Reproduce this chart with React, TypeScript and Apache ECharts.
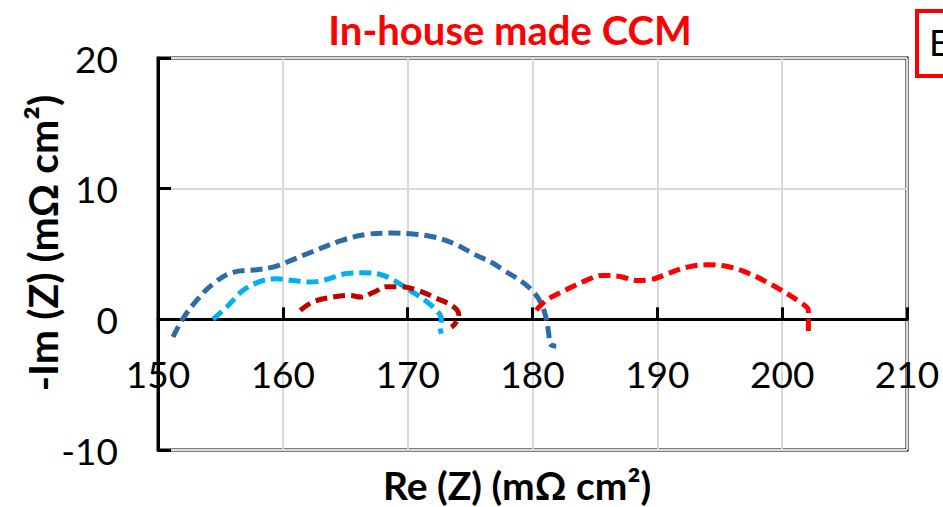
import React, { useEffect, useRef } from "react";
import * as echarts from "echarts";

const titleText = "In-house made CCM";
const xTitle = "Re (Z) (mΩ cm²)";
const yTitle = "-Im (Z) (mΩ cm²)";
const xTicks = { min: 150, max: 210, interval: 10 };
const yTicks = { min: -10, max: 20, interval: 10 };

const darkBlueX = [151.2, 152.0, 153.1, 154.4, 156.0, 157.9, 159.2, 160.3, 161.9, 164.6, 166.7, 168.6, 170.2, 172.1, 173.7, 175.3, 176.9, 177.7, 179.0, 180.1, 180.7, 181.1, 181.3, 181.4, 181.9];
const darkBlueY = [-1.35, 0.05, 1.45, 2.7, 3.6, 3.8, 4.0, 4.37, 5.0, 6.0, 6.5, 6.6, 6.55, 6.3, 5.8, 5.0, 4.25, 3.74, 2.98, 2.08, 1.2, 0.05, -1.1, -1.86, -2.06];

const lightBlueX = [154.4, 155.5, 156.8, 158.2, 159.5, 160.8, 162.2, 163.5, 165.1, 166.4, 167.8, 168.9, 170.2, 171.4, 172.3, 172.7, 172.6, 172.7];
const lightBlueY = [0.0, 0.94, 2.2, 2.9, 3.1, 2.98, 2.85, 3.05, 3.5, 3.56, 3.43, 2.98, 2.2, 1.45, 0.69, 0.05, -0.59, -1.1];

const darkRedX = [161.4, 162.4, 164.0, 165.4, 166.2, 167.3, 168.3, 169.4, 170.7, 172.1, 173.7, 174.1, 173.8, 173.5];
const darkRedY = [0.69, 1.32, 1.7, 1.83, 1.7, 2.08, 2.5, 2.5, 2.26, 1.7, 0.94, 0.3, -0.33, -0.59];

const redX = [180.3, 181.1, 182.7, 184.3, 185.6, 187.0, 188.3, 189.4, 190.8, 192.4, 194.0, 195.8, 197.4, 199.0, 200.4, 201.4, 202.1, 202.1, 202.1];
const redY = [0.69, 1.45, 2.26, 2.98, 3.36, 3.28, 2.98, 3.03, 3.49, 4.0, 4.17, 4.0, 3.49, 2.73, 1.96, 1.32, 0.69, -0.08, -0.97];

const pair = (xs: number[], ys: number[]) => xs.map((x, i) => [x, ys[i]]);

const FONT = "Lato, 'Open Sans', sans-serif";

const GRID_TOP = 58;
const GRID_BOTTOM = 57;
const H = 507;
const plotH = H - GRID_TOP - GRID_BOTTOM;
const zeroOffset = -plotH * ((0 - yTicks.min) / (yTicks.max - yTicks.min));

export default function App() {
  const ref = useRef<HTMLDivElement>(null);
  useEffect(() => {
    if (!ref.current) return;
    const chart = echarts.init(ref.current, undefined, { renderer: "svg" });
    const mkSeries = (name: string, xs: number[], ys: number[], color: string) => ({
      name,
      type: "line",
      data: pair(xs, ys),
      smooth: 0.4,
      showSymbol: false,
      symbol: "none",
      lineStyle: { color, width: 5, type: [12, 6] },
    });
    chart.setOption({
      animation: false,
      backgroundColor: "#ffffff",
      grid: {
        left: 158,
        top: GRID_TOP,
        right: 36,
        bottom: GRID_BOTTOM,
        show: true,
        borderColor: "#000",
        borderWidth: 3,
        backgroundColor: "transparent",
        containLabel: false,
        outerBoundsMode: "none",
      },
      xAxis: {
        type: "value",
        min: xTicks.min,
        max: xTicks.max,
        interval: xTicks.interval,
        position: "bottom",
        offset: zeroOffset,
        axisLine: { show: true, onZero: false, lineStyle: { color: "#000", width: 3 } },
        axisTick: { show: true, inside: true, length: 12, lineStyle: { color: "#000", width: 3 } },
        axisLabel: { color: "#000", fontFamily: FONT, fontSize: 37, margin: 36, hideOverlap: false },
        splitLine: { show: true, lineStyle: { color: "#D9D9D9", width: 2 } },
      },
      yAxis: {
        type: "value",
        min: yTicks.min,
        max: yTicks.max,
        interval: yTicks.interval,
        axisLine: { show: true, onZero: false, lineStyle: { color: "#000", width: 3 } },
        axisTick: { show: true, inside: true, length: 13, lineStyle: { color: "#000", width: 3 } },
        axisLabel: { color: "#000", fontFamily: FONT, fontSize: 37, margin: 40 },
        splitLine: { show: true, lineStyle: { color: "#D9D9D9", width: 2 } },
      },
      series: [
        mkSeries("s1", darkBlueX, darkBlueY, "#2E6CA8"),
        mkSeries("s2", lightBlueX, lightBlueY, "#00B0F0"),
        mkSeries("s3", darkRedX, darkRedY, "#C00000"),
        mkSeries("s4", redX, redY, "#FF0000"),
      ],
      graphic: [
        {
          type: "text",
          x: 510,
          y: 30,
          style: {
            text: titleText,
            fill: "#FF0000",
            font: `bold 40px ${FONT}`,
            textAlign: "center",
            textVerticalAlign: "middle",
          },
        },
        {
          type: "text",
          x: 517,
          y: 485,
          style: {
            text: xTitle,
            fill: "#000",
            font: `bold 39px ${FONT}`,
            textAlign: "center",
            textVerticalAlign: "middle",
          },
        },
        {
          type: "text",
          x: 42,
          y: 243,
          rotation: Math.PI / 2,
          style: {
            text: yTitle,
            fill: "#000",
            font: `bold 41px ${FONT}`,
            textAlign: "center",
            textVerticalAlign: "middle",
          },
        },
        {
          type: "rect",
          shape: { x: 917, y: 11, width: 60, height: 65 },
          style: { fill: "#fff", stroke: "#FF0000", lineWidth: 4 },
        },
        {
          type: "text",
          x: 929,
          y: 42,
          style: {
            text: "E",
            fill: "#000",
            font: `36px ${FONT}`,
            textAlign: "left",
            textVerticalAlign: "middle",
          },
        },
      ],
    });
    return () => chart.dispose();
  }, []);
  return <div ref={ref} style={{ width: 943, height: 507, position: "absolute", left: 0, top: 0 }} />;
}
